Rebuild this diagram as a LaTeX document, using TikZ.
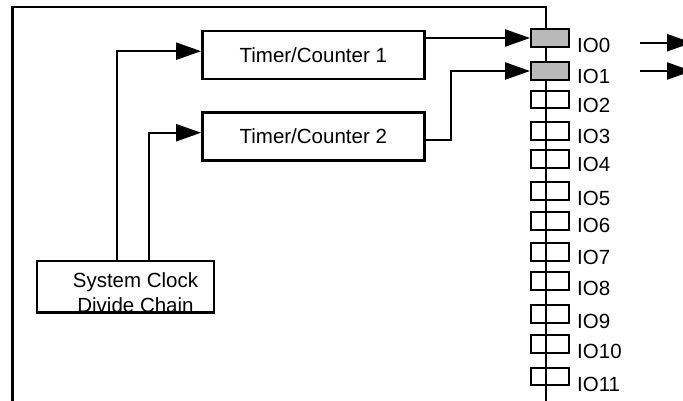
\documentclass[tikz,border=0pt]{standalone}
\usepackage{fontspec}
\setmainfont{Liberation Sans}
\usetikzlibrary{arrows.meta, positioning}

\begin{document}
\begin{tikzpicture}[
  x=1pt, y=-1pt,
  box/.style={draw, line width=2.4pt, minimum width=222pt, minimum height=48pt,
              inner sep=0pt, font=\fontsize{20.5}{24}\selectfont},
  pin/.style={draw, line width=2.4pt, minimum width=37.5pt, minimum height=17.5pt, inner sep=0pt},
  lbl/.style={inner sep=0pt, font=\fontsize{20.5}{24}\selectfont},
  wire/.style={line width=2.3pt},
  arr/.style={wire, -{Triangle[length=25pt, width=17pt]}}
]
\useasboundingbox (0,0) rectangle (683,400);

\draw[wire] (12.5,405) |- (546,6.7) -- (546,405);

\node[box] (tc1) at (313.3,55.2) {Timer/Counter 1};
\node[box, below=30.7pt of tc1] (tc2) {Timer/Counter 2};
\node[box, minimum width=177pt, minimum height=51.5pt] (clk) at (125.5,286.7) {};
\node[lbl, anchor=base] (clktop) at (135.5,287) {System Clock};
\node[lbl, anchor=base] (clkbot) at (135.5,312) {Divide Chain};

\node[pin, fill=gray!55] (io0) at (550,38) {};
\node[pin, fill=gray!55] (io1) at (550,71) {};
\foreach \i/\y in {2/99.5,3/131,4/159,5/191,6/221,7/252,8/281,9/314,10/344,11/376.5}
  \node[pin] (io\i) at (550,\y) {};
\foreach \i/\y in {0/45,1/76.5,2/105,3/136.5,4/164,5/198,6/225.5,7/257,8/288.5,9/321,10/351,11/384.5}
  \node[lbl, anchor=west] (lab\i) at (577,\y) {IO\i};

\draw[arr] ([xshift=-8.5pt]clk.north) |- ([yshift=4pt]tc1.west);
\draw[arr] ([xshift=23.5pt]clk.north) |- ([yshift=3.6pt]tc2.west);
\draw[arr] (tc1.east |- io0.west) -- (io0.west);
\draw[arr] ([yshift=-4pt]tc2.east) -- ++(25.5,0) |- (io1.west);

\coordinate (out0) at (640,42.7);
\coordinate (end0) at (692,42.7);
\coordinate (out1) at (640,71);
\coordinate (end1) at (692,71);
\draw[arr] (out0) -- (end0);
\draw[arr] (out1) -- (end1);
\end{tikzpicture}
\end{document}
